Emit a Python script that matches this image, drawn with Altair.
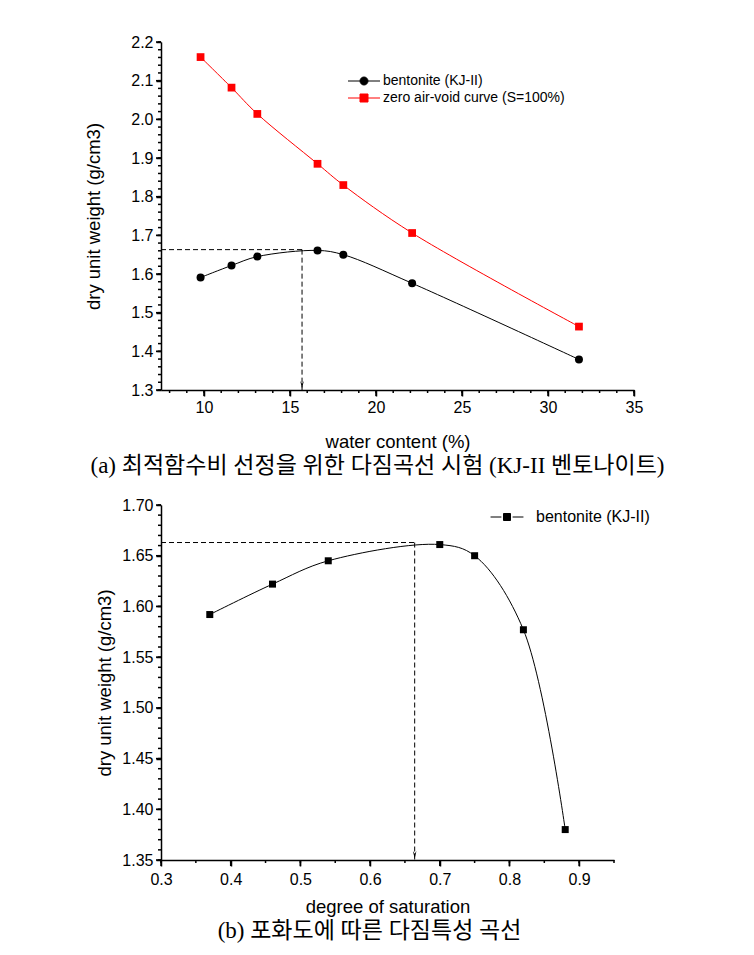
import altair as alt
import pandas as pd

# ---------------- data ----------------
water_content = [9.8, 11.6, 13.1, 16.6, 18.1, 22.1, 31.8]
dry_unit_weight = [1.591, 1.622, 1.645, 1.661, 1.650, 1.576, 1.379]
zero_air_void = [2.161, 2.082, 2.014, 1.885, 1.830, 1.706, 1.464]

saturation = [0.37, 0.46, 0.54, 0.70, 0.75, 0.82, 0.88]
dry_unit_weight_s = [1.592, 1.622, 1.645, 1.661, 1.650, 1.577, 1.380]

series_names = ["bentonite (KJ-II)", "zero air-void curve (S=100%)"]
series_colors = ["#000000", "#ff0000"]

opt_water = [15.7]
opt_sat = [0.664]
max_dry = [1.663]

x_top_domain = [7.5, 35]
y_top_domain = [1.3, 2.2]
x_bot_domain = [0.3, 0.95]
y_bot_domain = [1.35, 1.70]

x_top_major = [10, 15, 20, 25, 30, 35]
x_top_minor = list(range(8, 36))
y_top_major = [1.3, 1.4, 1.5, 1.6, 1.7, 1.8, 1.9, 2.0, 2.1, 2.2]
y_top_minor = [round(1.30 + 0.02 * i, 2) for i in range(46)]
x_bot_major = [0.3, 0.4, 0.5, 0.6, 0.7, 0.8, 0.9]
x_bot_minor = [round(0.30 + 0.05 * i, 2) for i in range(14)]
y_bot_major = [1.35, 1.40, 1.45, 1.50, 1.55, 1.60, 1.65, 1.70]
y_bot_minor = [round(1.35 + 0.01 * i, 2) for i in range(36)]

caption_a = "(a) 최적함수비 선정을 위한 다짐곡선 시험 (KJ-II 벤토나이트)"
caption_b = "(b) 포화도에 따른 다짐특성 곡선"

SANS = "Liberation Sans"
CAPFONT = "Liberation Serif, Noto Sans CJK KR"

# legend symbols: line + marker
circle_leg = "M-4,0H4 M1,0A1,1 0 1,1 -1,0A1,1 0 1,1 1,0Z"
square_leg = "M-4,0H4 M-1,-1H1V1H-1Z"
square_gap_leg = "M-4.7,0H-1.6 M1.6,0H4.7 M-1,-1H1V1H-1Z"
arrow_head = "M-0.45,-1L0,0.9L0.45,-1L0,-0.3Z"

TOP_W, TOP_H = 473, 348
BOT_W, BOT_H = 453, 355
AXW = 1.5

# ---------------- tables ----------------
top_df = pd.DataFrame({
    "w": water_content + water_content,
    "gd": dry_unit_weight + zero_air_void,
    "series": [series_names[0]] * len(water_content) + [series_names[1]] * len(water_content),
})
bot_df = pd.DataFrame({
    "w": saturation,
    "gd": dry_unit_weight_s,
    "series": [series_names[0]] * len(saturation),
})
top_hguide = pd.DataFrame({"w": [x_top_domain[0]], "w2": opt_water, "gd": max_dry})
top_vguide = pd.DataFrame({"w": opt_water, "gd": max_dry, "gd2": [y_top_domain[0]]})
top_arrow = pd.DataFrame({"w": opt_water, "gd": [y_top_domain[0]]})
bot_hguide = pd.DataFrame({"w": [x_bot_domain[0]], "w2": opt_sat, "gd": max_dry})
bot_vguide = pd.DataFrame({"w": opt_sat, "gd": max_dry, "gd2": [y_bot_domain[0]]})
bot_arrow = pd.DataFrame({"w": opt_sat, "gd": [y_bot_domain[0]]})

# ---------------- axes ----------------
common_axis = dict(grid=False, labelFlush=False, labelOverlap=False,
                   domainColor="black", tickColor="black", labelColor="black",
                   titleColor="black", labelFont=SANS, titleFont=SANS,
                   titleFontWeight="normal", domainWidth=AXW, tickWidth=AXW, ticks=True)

axis_x_top = alt.Axis(
    title="water content (%)", values=x_top_major, format="d", orient="bottom",
    tickSize=6, labelPadding=3, minExtent=28, maxExtent=28, titlePadding=14,
    labelFontSize=16, titleFontSize=18.5, **common_axis,
)
axis_y_top = alt.Axis(
    title="dry unit weight (g/cm3)", values=y_top_major, format=".1f", orient="left",
    tickSize=5, labelPadding=3, minExtent=40, maxExtent=40, titlePadding=18,
    labelFontSize=16, titleFontSize=18.5, **common_axis,
)
axis_x_bot = alt.Axis(
    title="degree of saturation", values=x_bot_major, format=".1f", orient="bottom",
    tickSize=6, labelPadding=5, minExtent=28, maxExtent=28, titlePadding=9,
    labelFontSize=16, titleFontSize=18.5, **common_axis,
)
axis_y_bot = alt.Axis(
    title="dry unit weight (g/cm3)", values=y_bot_major, format=".2f", orient="left",
    tickSize=5, labelPadding=3, minExtent=40, maxExtent=40, titlePadding=7,
    labelFontSize=16, titleFontSize=18.5, **common_axis,
)


def xs(domain, axis, field="w"):
    return alt.X(f"{field}:Q", scale=alt.Scale(domain=domain, nice=False, zero=False), axis=axis)


def ys(domain, axis, field="gd"):
    return alt.Y(f"{field}:Q", scale=alt.Scale(domain=domain, nice=False, zero=False), axis=axis)


def tick_rules(xenc, yenc, xvals, yvals, plot_h, xlen, ylen):
    xr = alt.Chart(pd.DataFrame({"w": xvals})).mark_rule(color="black", strokeWidth=AXW).encode(
        x=xenc, y=alt.value(plot_h), y2=alt.value(plot_h + xlen))
    yr = alt.Chart(pd.DataFrame({"gd": yvals})).mark_rule(color="black", strokeWidth=AXW).encode(
        y=yenc, x=alt.value(0), x2=alt.value(-ylen))
    return [xr, yr]


color_scale = alt.Scale(domain=series_names, range=series_colors)
dash = [5, 3]

# ---------------- top panel ----------------
tx = xs(x_top_domain, axis_x_top)
ty = ys(y_top_domain, axis_y_top)
tbase = alt.Chart(top_df)

t_layers = []
for name, col, shp, sz in zip(series_names, series_colors, ["circle", "square"], [64, 60]):
    sub = tbase.transform_filter(alt.datum.series == name)
    t_layers.append(sub.mark_line(interpolate="catmull-rom", strokeWidth=1, color=col).encode(x=tx, y=ty))
    t_layers.append(sub.mark_point(shape=shp, filled=True, size=sz, opacity=1, color=col).encode(x=tx, y=ty))

leg_top = alt.Legend(title=None, orient="none", legendX=196, legendY=32, padding=0,
                     labelFont=SANS, labelFontSize=14, labelColor="black", labelLimit=400,
                     symbolSize=64, symbolStrokeWidth=1, labelOffset=12, rowPadding=3)
t_leg = tbase.transform_filter("false").mark_point(opacity=1, strokeWidth=1).encode(
    x=tx, y=ty,
    fill=alt.Fill("series:N", scale=color_scale, legend=leg_top),
    stroke=alt.Stroke("series:N", scale=color_scale, legend=leg_top),
    shape=alt.Shape("series:N", scale=alt.Scale(domain=series_names, range=[circle_leg, square_leg]),
                    legend=leg_top),
)

t_h = alt.Chart(top_hguide).mark_rule(strokeDash=dash, color="black", strokeWidth=1).encode(
    x=tx, x2="w2:Q", y=ty)
t_v = alt.Chart(top_vguide).mark_rule(strokeDash=dash, color="black", strokeWidth=1).encode(
    x=tx, y=ty, y2="gd2:Q")
t_arrow = alt.Chart(top_arrow).mark_point(shape=arrow_head, filled=True, size=64, color="black",
                                          opacity=1, yOffset=-5).encode(x=tx, y=ty)

t_ticks = (tick_rules(tx, ty, x_top_minor, y_top_minor, TOP_H, 3, 3)
           + tick_rules(tx, ty, x_top_major, y_top_major, TOP_H, 6, 5))

top = alt.layer(*t_ticks, t_h, t_v, t_arrow, *t_layers, t_leg).properties(
    width=TOP_W, height=TOP_H,
    title=alt.TitleParams(text=caption_a, orient="bottom", anchor="middle", frame="group",
                          font=CAPFONT, fontSize=23, fontWeight="normal", color="black",
                          offset=4, dx=-20),
)

# ---------------- bottom panel ----------------
bx = xs(x_bot_domain, axis_x_bot)
by = ys(y_bot_domain, axis_y_bot)
bbase = alt.Chart(bot_df)

b_line = bbase.mark_line(interpolate="catmull-rom", strokeWidth=1, color="black").encode(x=bx, y=by)
b_sq = bbase.mark_point(shape="square", filled=True, size=49, opacity=1, color="black").encode(x=bx, y=by)

bot_scale = alt.Scale(domain=series_names[:1], range=series_colors[:1])
leg_bot = alt.Legend(title=None, orient="none", legendX=338, legendY=4, padding=0,
                     labelFont=SANS, labelFontSize=16, labelColor="black", labelLimit=400,
                     symbolSize=49, symbolStrokeWidth=1, labelOffset=21)
b_leg = bbase.transform_filter("false").mark_point(opacity=1, strokeWidth=1).encode(
    x=bx, y=by,
    fill=alt.Fill("series:N", scale=bot_scale, legend=leg_bot),
    stroke=alt.Stroke("series:N", scale=bot_scale, legend=leg_bot),
    shape=alt.Shape("series:N", scale=alt.Scale(domain=series_names[:1], range=[square_gap_leg]),
                    legend=leg_bot),
)

b_h = alt.Chart(bot_hguide).mark_rule(strokeDash=dash, color="black", strokeWidth=1).encode(
    x=bx, x2="w2:Q", y=by)
b_v = alt.Chart(bot_vguide).mark_rule(strokeDash=dash, color="black", strokeWidth=1).encode(
    x=bx, y=by, y2="gd2:Q")
b_arrow = alt.Chart(bot_arrow).mark_point(shape=arrow_head, filled=True, size=64, color="black",
                                          opacity=1, yOffset=-5).encode(x=bx, y=by)

b_ticks = (tick_rules(bx, by, x_bot_minor, y_bot_minor, BOT_H, 3, 3)
           + tick_rules(bx, by, x_bot_major, y_bot_major, BOT_H, 6, 5))

bottom = alt.layer(*b_ticks, b_h, b_v, b_arrow, b_line, b_sq, b_leg).properties(
    width=BOT_W, height=BOT_H,
    title=alt.TitleParams(text=caption_b, orient="bottom", anchor="middle", frame="group",
                          font=CAPFONT, fontSize=23, fontWeight="normal", color="black",
                          offset=4, dx=-18),
)

chart = alt.vconcat(top, bottom, spacing=115, bounds="flush").resolve_scale(
    fill="independent", stroke="independent", shape="independent",
).properties(
    padding={"left": 76, "top": 26, "right": 5, "bottom": 5},
    background="white",
).configure_view(stroke=None)

chart.save("out.html", embed_options={"renderer": "svg", "actions": False})
